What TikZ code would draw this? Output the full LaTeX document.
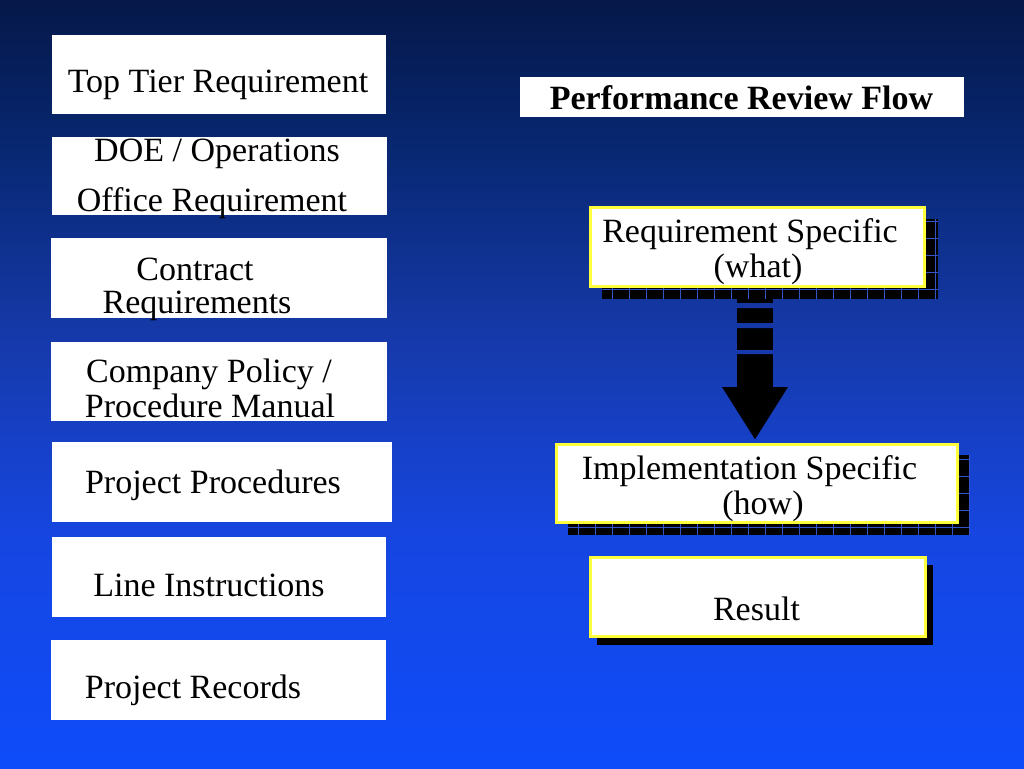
\documentclass[tikz,border=0pt]{standalone}
\usepackage{fontspec}
\setmainfont{Liberation Serif}
\usetikzlibrary{arrows.meta}

\definecolor{bgtop}{RGB}{5,24,72}
\definecolor{bgupper}{RGB}{8,40,115}
\definecolor{bgmid}{RGB}{22,58,172}
\definecolor{bglower}{RGB}{22,70,225}
\definecolor{bgbottom}{RGB}{14,76,250}
\definecolor{boxyellow}{RGB}{255,255,60}
\definecolor{gridblue}{RGB}{50,85,205}

\pgfdeclareverticalshading{slidefade}{100bp}{%
  color(0bp)=(bgbottom); color(25bp)=(bgbottom); color(40bp)=(bglower);
  color(52.5bp)=(bgmid); color(65bp)=(bgupper); color(75bp)=(bgtop);
  color(100bp)=(bgtop)}

\begin{document}
\begin{tikzpicture}[x=1pt, y=-1pt, font=\fontsize{34}{40}\selectfont]
    \tikzstyle{slide bg}=[shading=slidefade]
    \tikzstyle{tier box}=[rectangle, fill=white, inner sep=0pt, anchor=north west]
    \tikzstyle{flow box}=[tier box, draw=boxyellow, line width=2.5pt]
    \tikzstyle{shadow box}=[rectangle, fill=black, inner sep=0pt, anchor=north west]
    \tikzstyle{shadow grid}=[draw=gridblue, line width=0.8pt]
    \tikzstyle{line text}=[anchor=base, inner sep=0pt]

    % 背景
    \useasboundingbox (0,0) rectangle (1024,768);
    \shade[slide bg] (0,0) rectangle (1024,768);

    % 左侧层级
    \node[tier box, minimum width=334pt, minimum height=79pt] (toptier) at (52,35) {};
    \node[line text] (toptiertxt) at (218,92) {Top Tier Requirement};

    \node[tier box, minimum width=335pt, minimum height=78pt] (doe) at (52,137) {};
    \node[line text] (doetxta) at (217,161) {DOE / Operations};
    \node[line text] (doetxtb) at (212,211.5) {Office Requirement};

    \node[tier box, minimum width=336pt, minimum height=80pt] (contract) at (51,238) {};
    \node[line text] (contracttxta) at (195,280) {Contract};
    \node[line text] (contracttxtb) at (197,313) {Requirements};

    \node[tier box, minimum width=336pt, minimum height=79pt] (policy) at (51,342) {};
    \node[line text] (policytxta) at (209,382) {Company Policy /};
    \node[line text] (policytxtb) at (210,417) {Procedure Manual};

    \node[tier box, minimum width=340pt, minimum height=80pt] (procs) at (52,442) {};
    \node[line text] (procstxt) at (213,493) {Project Procedures};

    \node[tier box, minimum width=334pt, minimum height=80pt] (lineinst) at (52,537) {};
    \node[line text] (lineinsttxt) at (209,596) {Line Instructions};

    \node[tier box, minimum width=335pt, minimum height=80pt] (records) at (51,640) {};
    \node[line text] (recordstxt) at (193,698) {Project Records};

    % 标题
    \node[tier box, minimum width=444pt, minimum height=40pt] (title) at (520,77) {};
    \node[line text, font=\fontsize{34}{40}\selectfont\bfseries] (titletxt) at (741.5,109) {Performance Review Flow};

    % 右侧流程 (阴影)
    \node[shadow box, minimum width=336pt, minimum height=80pt] (reqshadow) at (602,219) {};
    \begin{scope}
        \clip (reqshadow.north west) rectangle (reqshadow.south east);
        \draw[shadow grid, step=17pt] (reqshadow.north west) grid (reqshadow.south east);
    \end{scope}
    \node[flow box, minimum width=334pt, minimum height=79pt] (reqbox) at (589,206) {};
    \node[line text] (reqtxta) at (750,242) {Requirement Specific};
    \node[line text] (reqtxtb) at (758,277) {(what)};

    \node[shadow box, minimum width=402pt, minimum height=80pt] (implshadow) at (568,455) {};
    \begin{scope}
        \clip (implshadow.north west) rectangle (implshadow.south east);
        \draw[shadow grid, step=17pt] (implshadow.north west) grid (implshadow.south east);
    \end{scope}

    % 箭头
    \coordinate (arrowx) at (755,0);
    \draw[line width=36pt, -{Triangle[width=62pt, length=53pt]}]
        (reqshadow.south -| arrowx) -- ([yshift=15pt]implshadow.north -| arrowx);
    \begin{scope}
        \clip (735,303) rectangle (775,308) (735,323) rectangle (775,328) (735,350) rectangle (775,354);
        \shade[slide bg] (0,0) rectangle (1024,768);
    \end{scope}

    \node[flow box, minimum width=401pt, minimum height=78pt] (implbox) at (555,443) {};
    \node[line text] (impltxta) at (749.5,479) {Implementation Specific};
    \node[line text] (impltxtb) at (763,514) {(how)};

    \node[shadow box, minimum width=336pt, minimum height=80pt] (resultshadow) at (597,565) {};
    \node[flow box, minimum width=335pt, minimum height=79pt] (resultbox) at (589,556) {};
    \node[line text] (resulttxt) at (756.5,620) {Result};
\end{tikzpicture}
\end{document}
